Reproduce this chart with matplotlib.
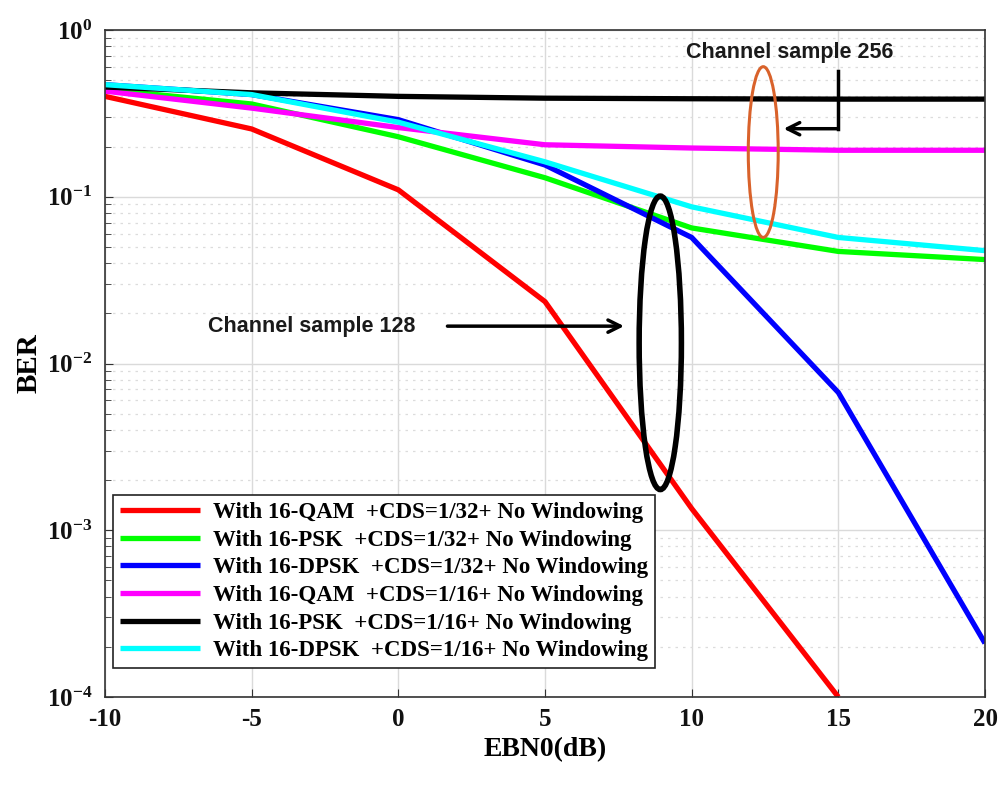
import matplotlib
matplotlib.use("Agg")
from matplotlib import pyplot as plt
from matplotlib.patches import Ellipse
from matplotlib.ticker import LogLocator, FixedLocator

# EbN0 points (dB)
EBN0 = [-10, -5, 0, 5, 10, 15, 20]

QAM_32 = [0.40, 0.255, 0.110, 0.0235, 1.35e-3, 1.0e-4]       # stops at 15 dB
PSK_32 = [0.44, 0.36, 0.229, 0.130, 0.065, 0.047, 0.042]
DPSK_32 = [0.47, 0.41, 0.29, 0.155, 0.057, 0.0067, 2.1e-4]
QAM_16 = [0.43, 0.34, 0.26, 0.205, 0.196, 0.19, 0.19]
PSK_16 = [0.455, 0.42, 0.40, 0.39, 0.387, 0.385, 0.385]
DPSK_16 = [0.47, 0.41, 0.28, 0.162, 0.087, 0.057, 0.0475]

LABELS = [
    "With 16-QAM  +CDS=1/32+ No Windowing",
    "With 16-PSK  +CDS=1/32+ No Windowing",
    "With 16-DPSK  +CDS=1/32+ No Windowing",
    "With 16-QAM  +CDS=1/16+ No Windowing",
    "With 16-PSK  +CDS=1/16+ No Windowing",
    "With 16-DPSK  +CDS=1/16+ No Windowing",
]
COLORS = ["#ff0000", "#00ff00", "#0000ff", "#ff00ff", "#000000", "#00ffff"]
SERIES = [QAM_32, PSK_32, DPSK_32, QAM_16, PSK_16, DPSK_16]
XTICKS = [-10, -5, 0, 5, 10, 15, 20]

SERIF = "Liberation Serif"
plt.rcParams["axes.unicode_minus"] = False
plt.rcParams["mathtext.fontset"] = "custom"
plt.rcParams["mathtext.rm"] = "Liberation Serif:bold"
plt.rcParams["mathtext.it"] = "Liberation Serif:bold"
plt.rcParams["mathtext.bf"] = "Liberation Serif:bold"

fig = plt.figure(figsize=(10.02, 7.85), dpi=100)
ax = fig.add_axes([105 / 1002, 88 / 785, 880 / 1002, 667 / 785])

for ys, c, lab in zip(SERIES, COLORS, LABELS):
    ax.plot(EBN0[:len(ys)], ys, color=c, lw=3.8, label=lab, solid_capstyle="butt")

ax.set_yscale("log")
ax.set_xlim(-10, 20)
ax.set_ylim(1e-4, 1)
ax.xaxis.set_major_locator(FixedLocator(XTICKS))
ax.yaxis.set_major_locator(LogLocator(base=10, numticks=10))
ax.yaxis.set_minor_locator(LogLocator(base=10, subs=range(2, 10), numticks=20))

ax.grid(True, which="major", color="#dadada", lw=1.0, ls="-")
ax.grid(True, which="minor", axis="y", color="#dcdcdc", lw=0.9, ls=(0, (2, 4)))
ax.set_axisbelow(True)

for s in ax.spines.values():
    s.set_color("#333333")
    s.set_linewidth(1.2)

ax.tick_params(axis="both", which="both", direction="in", colors="#333333")
ax.tick_params(axis="both", which="major", length=6, labelsize=18, labelcolor="#111111")
ax.tick_params(axis="x", which="major", pad=8)
ax.tick_params(axis="y", which="major", pad=9)
ax.tick_params(axis="y", which="minor", length=4)
for lbl in ax.get_xticklabels() + ax.get_yticklabels():
    lbl.set_fontfamily(SERIF)
    lbl.set_fontweight("bold")

ax.set_xlabel("EBN0(dB)", fontsize=20, fontweight="bold", family=SERIF, labelpad=4)
ax.set_ylabel("BER", fontsize=21, fontweight="bold", family=SERIF, labelpad=3)

leg = ax.legend(loc="lower left", bbox_to_anchor=(-0.004, 0.026), fancybox=False,
                framealpha=1, edgecolor="#222222", handlelength=3.5, handletextpad=0.55,
                labelspacing=0.29, borderpad=0.3,
                prop={"family": SERIF, "weight": "bold", "size": 16.5})
leg.get_frame().set_linewidth(1.2)

# annotations (axes fraction coordinates)
ax.add_patch(Ellipse((0.748, 0.817), 0.034, 0.256, transform=ax.transAxes,
                     fill=False, ec="#d9622b", lw=2.2, zorder=5))
ax.text(0.660, 0.966, "Channel sample 256", transform=ax.transAxes, fontsize=15.5,
        family="Liberation Sans", fontweight="bold", color="#1a1a1a", va="center", zorder=6)
ax.plot([0.833, 0.833], [0.938, 0.852], transform=ax.transAxes, color="black", lw=2.5, zorder=6)
ax.annotate("", xy=(0.768, 0.852), xytext=(0.835, 0.852),
            xycoords="axes fraction", textcoords="axes fraction",
            arrowprops=dict(arrowstyle="->", color="black", lw=2.5, mutation_scale=22), zorder=6)

ax.add_patch(Ellipse((0.631, 0.531), 0.048, 0.44, transform=ax.transAxes,
                     fill=False, ec="black", lw=4.0, zorder=5))
ax.text(0.117, 0.556, "Channel sample 128", transform=ax.transAxes, fontsize=15.5,
        family="Liberation Sans", fontweight="bold", color="#1a1a1a", va="center", zorder=6)
ax.annotate("", xy=(0.593, 0.556), xytext=(0.386, 0.556),
            xycoords="axes fraction", textcoords="axes fraction",
            arrowprops=dict(arrowstyle="->", color="black", lw=2.5, mutation_scale=22), zorder=6)

fig.savefig("out.png", dpi=100)
